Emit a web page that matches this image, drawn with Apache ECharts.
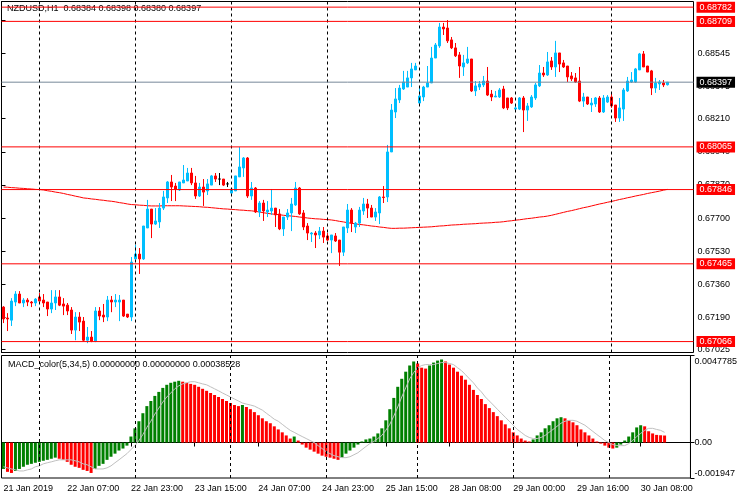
<!DOCTYPE html>
<html><head><meta charset="utf-8">
<script src="https://cdn.jsdelivr.net/npm/echarts@6/dist/echarts.min.js"></script>
<style>html,body{margin:0;padding:0;background:#fff}#c{width:740px;height:500px}</style>
</head><body><div id="c"></div>
<script>
// ---------------- DATA ----------------
const symbolName = 'NZDUSD,H1';
const open = [0.67243,0.67187,0.67176,0.67269,0.67310,0.67264,0.67279,0.67269,0.67264,0.67295,0.67279,0.67269,0.67233,0.67264,0.67295,0.67259,0.67253,0.67228,0.67125,0.67192,0.67171,0.67073,0.67089,0.67068,0.67223,0.67202,0.67192,0.67279,0.67269,0.67269,0.67279,0.67207,0.67192,0.67490,0.67515,0.67490,0.67649,0.67746,0.67669,0.67680,0.67751,0.67803,0.67885,0.67864,0.67844,0.67880,0.67890,0.67931,0.67880,0.67813,0.67859,0.67839,0.67869,0.67916,0.67900,0.67900,0.67875,0.67828,0.67839,0.67911,0.67957,0.68008,0.67813,0.67854,0.67731,0.67777,0.67731,0.67736,0.67751,0.67721,0.67644,0.67705,0.67726,0.67767,0.67854,0.67726,0.67659,0.67618,0.67623,0.67613,0.67633,0.67608,0.67587,0.67608,0.67587,0.67525,0.67649,0.67741,0.67654,0.67674,0.67736,0.67772,0.67751,0.67705,0.67726,0.67808,0.67808,0.68039,0.68244,0.68306,0.68362,0.68372,0.68419,0.68460,0.68290,0.68321,0.68372,0.68393,0.68521,0.68583,0.68680,0.68675,0.68614,0.68573,0.68537,0.68475,0.68496,0.68516,0.68352,0.68372,0.68383,0.68403,0.68336,0.68321,0.68321,0.68362,0.68316,0.68316,0.68259,0.68259,0.68316,0.68254,0.68270,0.68316,0.68378,0.68444,0.68434,0.68506,0.68475,0.68547,0.68496,0.68480,0.68429,0.68419,0.68403,0.68300,0.68321,0.68280,0.68285,0.68316,0.68244,0.68295,0.68321,0.68280,0.68213,0.68259,0.68352,0.68398,0.68398,0.68460,0.68542,0.68480,0.68455,0.68367,0.68388,0.68393,0.68384];
const close = [0.67182,0.67182,0.67274,0.67310,0.67264,0.67279,0.67269,0.67264,0.67284,0.67274,0.67264,0.67233,0.67264,0.67295,0.67253,0.67248,0.67223,0.67125,0.67192,0.67166,0.67073,0.67089,0.67068,0.67223,0.67197,0.67192,0.67279,0.67269,0.67279,0.67279,0.67197,0.67192,0.67474,0.67515,0.67490,0.67659,0.67746,0.67669,0.67685,0.67751,0.67808,0.67885,0.67859,0.67849,0.67885,0.67895,0.67931,0.67880,0.67813,0.67859,0.67833,0.67875,0.67916,0.67900,0.67900,0.67869,0.67875,0.67849,0.67916,0.67962,0.68008,0.67813,0.67854,0.67731,0.67777,0.67736,0.67741,0.67751,0.67716,0.67644,0.67705,0.67726,0.67772,0.67854,0.67721,0.67654,0.67623,0.67623,0.67613,0.67633,0.67602,0.67587,0.67613,0.67582,0.67525,0.67654,0.67741,0.67674,0.67674,0.67741,0.67772,0.67751,0.67705,0.67731,0.67808,0.67805,0.68039,0.68254,0.68311,0.68367,0.68398,0.68419,0.68465,0.68480,0.68326,0.68372,0.68393,0.68521,0.68588,0.68680,0.68670,0.68609,0.68573,0.68532,0.68480,0.68496,0.68516,0.68352,0.68378,0.68388,0.68403,0.68331,0.68321,0.68326,0.68357,0.68265,0.68265,0.68290,0.68265,0.68316,0.68254,0.68275,0.68321,0.68383,0.68444,0.68434,0.68501,0.68475,0.68547,0.68490,0.68475,0.68424,0.68414,0.68398,0.68300,0.68321,0.68285,0.68290,0.68316,0.68244,0.68316,0.68321,0.68275,0.68213,0.68265,0.68357,0.68403,0.68408,0.68465,0.68542,0.68475,0.68449,0.68367,0.68393,0.68398,0.68383,0.68397];
const low = [0.67161,0.67120,0.67146,0.67248,0.67264,0.67243,0.67248,0.67243,0.67248,0.67274,0.67243,0.67197,0.67212,0.67228,0.67248,0.67202,0.67202,0.67105,0.67073,0.67120,0.67068,0.67058,0.67063,0.67063,0.67176,0.67166,0.67171,0.67217,0.67243,0.67171,0.67192,0.67187,0.67171,0.67490,0.67413,0.67485,0.67649,0.67597,0.67664,0.67649,0.67741,0.67777,0.67787,0.67787,0.67839,0.67880,0.67890,0.67869,0.67798,0.67808,0.67762,0.67818,0.67869,0.67885,0.67869,0.67864,0.67859,0.67828,0.67839,0.67911,0.67911,0.67803,0.67793,0.67726,0.67705,0.67685,0.67705,0.67716,0.67654,0.67638,0.67608,0.67690,0.67633,0.67762,0.67716,0.67638,0.67587,0.67577,0.67546,0.67592,0.67572,0.67582,0.67520,0.67577,0.67454,0.67505,0.67623,0.67628,0.67623,0.67654,0.67716,0.67700,0.67705,0.67685,0.67669,0.67777,0.67782,0.68039,0.68213,0.68290,0.68357,0.68372,0.68372,0.68460,0.68280,0.68300,0.68372,0.68393,0.68521,0.68573,0.68639,0.68598,0.68567,0.68526,0.68419,0.68429,0.68490,0.68347,0.68326,0.68357,0.68372,0.68326,0.68300,0.68321,0.68316,0.68259,0.68254,0.68285,0.68244,0.68254,0.68141,0.68198,0.68265,0.68306,0.68372,0.68424,0.68429,0.68460,0.68424,0.68449,0.68470,0.68398,0.68403,0.68393,0.68295,0.68270,0.68280,0.68244,0.68270,0.68239,0.68239,0.68290,0.68265,0.68193,0.68193,0.68198,0.68347,0.68393,0.68393,0.68460,0.68475,0.68449,0.68331,0.68342,0.68357,0.68372,0.68380];
const high = [0.67248,0.67212,0.67289,0.67325,0.67325,0.67289,0.67289,0.67274,0.67289,0.67315,0.67310,0.67269,0.67330,0.67330,0.67330,0.67289,0.67264,0.67243,0.67217,0.67217,0.67192,0.67141,0.67120,0.67243,0.67243,0.67259,0.67300,0.67300,0.67310,0.67305,0.67279,0.67207,0.67500,0.67562,0.67546,0.67659,0.67793,0.67746,0.67751,0.67777,0.67839,0.67890,0.67921,0.67880,0.67885,0.67972,0.67957,0.67957,0.67916,0.67880,0.67900,0.67900,0.67921,0.67931,0.67931,0.67900,0.67885,0.67849,0.67916,0.68064,0.68013,0.68013,0.67885,0.67859,0.67787,0.67793,0.67787,0.67849,0.67751,0.67746,0.67705,0.67746,0.67803,0.67885,0.67859,0.67741,0.67674,0.67628,0.67633,0.67654,0.67654,0.67623,0.67613,0.67623,0.67587,0.67654,0.67772,0.67751,0.67680,0.67757,0.67803,0.67798,0.67767,0.67751,0.67813,0.67864,0.68075,0.68285,0.68367,0.68383,0.68455,0.68455,0.68496,0.68496,0.68372,0.68378,0.68480,0.68578,0.68598,0.68701,0.68701,0.68716,0.68629,0.68598,0.68552,0.68537,0.68578,0.68516,0.68403,0.68403,0.68429,0.68475,0.68357,0.68352,0.68367,0.68378,0.68316,0.68321,0.68280,0.68321,0.68326,0.68290,0.68331,0.68393,0.68485,0.68475,0.68552,0.68526,0.68609,0.68547,0.68511,0.68480,0.68449,0.68444,0.68475,0.68342,0.68321,0.68316,0.68321,0.68326,0.68331,0.68331,0.68342,0.68280,0.68316,0.68367,0.68424,0.68449,0.68470,0.68547,0.68557,0.68480,0.68460,0.68419,0.68408,0.68408,0.68398];
const movingAvg = [0.67859,0.67858,0.67856,0.67855,0.67853,0.67852,0.67850,0.67849,0.67847,0.67846,0.67844,0.67840,0.67837,0.67833,0.67830,0.67826,0.67821,0.67817,0.67812,0.67808,0.67803,0.67801,0.67798,0.67796,0.67793,0.67791,0.67788,0.67786,0.67783,0.67779,0.67776,0.67772,0.67769,0.67768,0.67766,0.67765,0.67763,0.67762,0.67762,0.67762,0.67763,0.67763,0.67763,0.67763,0.67763,0.67762,0.67761,0.67760,0.67759,0.67758,0.67756,0.67755,0.67753,0.67751,0.67749,0.67747,0.67746,0.67744,0.67743,0.67741,0.67740,0.67738,0.67737,0.67734,0.67731,0.67727,0.67724,0.67721,0.67719,0.67717,0.67714,0.67712,0.67710,0.67708,0.67705,0.67703,0.67700,0.67698,0.67696,0.67695,0.67693,0.67692,0.67690,0.67687,0.67683,0.67680,0.67676,0.67673,0.67670,0.67667,0.67665,0.67662,0.67659,0.67657,0.67654,0.67652,0.67649,0.67647,0.67647,0.67648,0.67648,0.67649,0.67650,0.67651,0.67652,0.67653,0.67654,0.67655,0.67657,0.67659,0.67660,0.67662,0.67664,0.67665,0.67666,0.67668,0.67669,0.67670,0.67671,0.67673,0.67674,0.67675,0.67676,0.67678,0.67679,0.67681,0.67684,0.67686,0.67689,0.67691,0.67694,0.67697,0.67699,0.67702,0.67705,0.67707,0.67710,0.67714,0.67719,0.67724,0.67729,0.67734,0.67738,0.67743,0.67748,0.67753,0.67757,0.67762,0.67767,0.67772,0.67776,0.67781,0.67785,0.67790,0.67795,0.67799,0.67804,0.67808,0.67813,0.67817,0.67821,0.67826,0.67830,0.67834,0.67838,0.67843,0.67847];
const macdHist = [-0.00145,-0.00161,-0.00167,-0.00156,-0.00145,-0.00133,-0.00122,-0.00117,-0.00111,-0.00106,-0.00100,-0.00095,-0.00089,-0.00083,-0.00089,-0.00095,-0.00106,-0.00122,-0.00133,-0.00139,-0.00150,-0.00156,-0.00167,-0.00145,-0.00128,-0.00117,-0.00095,-0.00078,-0.00061,-0.00044,-0.00033,-0.00017,0.00033,0.00078,0.00117,0.00161,0.00200,0.00228,0.00256,0.00278,0.00300,0.00317,0.00328,0.00334,0.00339,0.00334,0.00328,0.00322,0.00317,0.00306,0.00295,0.00284,0.00272,0.00261,0.00250,0.00239,0.00228,0.00217,0.00206,0.00200,0.00206,0.00195,0.00183,0.00167,0.00150,0.00133,0.00117,0.00106,0.00089,0.00072,0.00056,0.00039,0.00022,0.00033,0.00011,-0.00011,-0.00028,-0.00039,-0.00050,-0.00061,-0.00072,-0.00078,-0.00083,-0.00089,-0.00095,-0.00083,-0.00061,-0.00044,-0.00028,-0.00011,0.00006,0.00017,0.00022,0.00033,0.00050,0.00078,0.00122,0.00183,0.00245,0.00306,0.00350,0.00389,0.00423,0.00445,0.00434,0.00411,0.00406,0.00423,0.00439,0.00450,0.00456,0.00445,0.00428,0.00411,0.00389,0.00367,0.00345,0.00317,0.00289,0.00261,0.00239,0.00211,0.00189,0.00167,0.00145,0.00122,0.00100,0.00078,0.00056,0.00039,0.00022,0.00011,0.00006,0.00017,0.00039,0.00056,0.00078,0.00095,0.00117,0.00133,0.00139,0.00133,0.00122,0.00111,0.00095,0.00072,0.00056,0.00039,0.00022,0.00006,-0.00006,-0.00017,-0.00028,-0.00033,-0.00028,-0.00011,0.00011,0.00033,0.00056,0.00083,0.00095,0.00089,0.00062,0.00050,0.00042,0.00040,0.00038528];
const macdSignal = [-0.00133,-0.00139,-0.00145,-0.00150,-0.00156,-0.00156,-0.00150,-0.00145,-0.00133,-0.00128,-0.00117,-0.00111,-0.00106,-0.00100,-0.00095,-0.00095,-0.00095,-0.00095,-0.00100,-0.00106,-0.00117,-0.00122,-0.00133,-0.00145,-0.00145,-0.00145,-0.00139,-0.00128,-0.00111,-0.00095,-0.00078,-0.00061,-0.00039,-0.00017,0.00011,0.00044,0.00083,0.00117,0.00156,0.00189,0.00222,0.00250,0.00272,0.00295,0.00311,0.00322,0.00328,0.00334,0.00334,0.00328,0.00322,0.00317,0.00306,0.00295,0.00284,0.00272,0.00261,0.00250,0.00239,0.00228,0.00217,0.00211,0.00206,0.00200,0.00189,0.00178,0.00161,0.00145,0.00128,0.00117,0.00100,0.00083,0.00067,0.00056,0.00044,0.00033,0.00022,0.00011,0.00000,-0.00017,-0.00033,-0.00050,-0.00061,-0.00072,-0.00078,-0.00083,-0.00083,-0.00078,-0.00067,-0.00056,-0.00039,-0.00022,-0.00006,0.00006,0.00022,0.00039,0.00067,0.00100,0.00145,0.00195,0.00250,0.00300,0.00350,0.00384,0.00411,0.00423,0.00428,0.00428,0.00428,0.00434,0.00439,0.00439,0.00434,0.00428,0.00411,0.00395,0.00373,0.00350,0.00328,0.00300,0.00278,0.00250,0.00228,0.00206,0.00183,0.00161,0.00139,0.00117,0.00095,0.00072,0.00056,0.00039,0.00028,0.00022,0.00022,0.00028,0.00039,0.00056,0.00072,0.00089,0.00106,0.00117,0.00122,0.00122,0.00117,0.00106,0.00095,0.00078,0.00061,0.00044,0.00028,0.00011,0.00000,-0.00011,-0.00017,-0.00017,-0.00017,-0.00006,0.00011,0.00033,0.00050,0.00067,0.00078,0.00078,0.00072,0.00067,0.00056];
// horizontal levels drawn on the chart and the bid line
const levelLines = [0.68782, 0.68709, 0.68065, 0.67846, 0.67465, 0.67066];
const bidPrice = 0.68397;
// axis tick labels
const priceTicks = [0.67025,0.67190,0.67360,0.67530,0.67700,0.67870,0.68040,0.68210,0.68375,0.68545,0.68715];
const macdTicks = [0.0047785, 0, -0.001947];
const macdTickText = ['0.0047785', '0.00', '-0.001947'];
const timeLabelIdx = [0,16,32,48,64,80,96,112,128,144,160];
const timeLabelText = ['21 Jan 2019','22 Jan 07:00','22 Jan 23:00','23 Jan 15:00','24 Jan 07:00','24 Jan 23:00','25 Jan 15:00','28 Jan 08:00','29 Jan 00:00','29 Jan 16:00','30 Jan 08:00'];
const daySeparatorIdx = [9,33,57,81,104,128,152];
const macdTitle = 'MACD_color(5,34,5) 0.00000000 0.00000000';

// ---------------- BUILD ----------------
const SLOTS = 173;
const cats = [];
for (let i = 0; i < SLOTS; i++) cats.push(String(i));
const labelMap = {};
timeLabelIdx.forEach((k, j) => labelMap[k] = timeLabelText[j]);
const candleData = open.map((o, i) => [o, close[i], low[i], high[i]]);
const histData = macdHist.map((v, i) => ({
  value: v,
  itemStyle: { color: (i > 0 && v < macdHist[i - 1]) ? '#FF0000' : '#008000' }
}));
const FONT = 'Tahoma, "Liberation Sans", Arial, sans-serif';
const last = candleData.length - 1;
const titleText = symbolName + '  ' + [open[last], high[last], low[last], close[last]].map(v => v.toFixed(5)).join(' ');

const dashLine = { color: '#000000', type: [3, 3], width: 1 };
const vLines = daySeparatorIdx.map(k => ({ xAxis: cats[k], lineStyle: dashLine, label: { show: false } }));

function levelSeries(v, lineColor, boxColor) {
  return {
    type: 'line', xAxisIndex: 2, yAxisIndex: 0, data: [[0, v], [1, v]], symbol: 'none', silent: true, z: 6,
    color: lineColor, lineStyle: { color: lineColor, width: 1, type: 'solid' },
    endLabel: { show: true, distance: 3, formatter: () => v.toFixed(5), color: '#fff', backgroundColor: boxColor,
      padding: [1, 3, 0, 3], fontSize: 9, fontFamily: FONT, lineHeight: 10 }
  };
}
const levelSeriesList = levelLines.map(v => levelSeries(v, '#FF0000', '#FF0000'));
levelSeriesList.push(levelSeries(bidPrice, '#778899', '#000000'));

const chart = echarts.init(document.getElementById('c'), null, { renderer: 'canvas' });
chart.setOption({
  animation: false,
  backgroundColor: '#fff',
  textStyle: { fontFamily: FONT },
  title: [
    { text: titleText, left: 7, top: 4, padding: 0, textStyle: { fontSize: 9, fontWeight: 'normal', color: '#000', fontFamily: FONT } },
    { text: macdTitle + ' ' + macdHist[macdHist.length - 1].toFixed(8), left: 8, top: 360, padding: 0,
      textStyle: { fontSize: 9, fontWeight: 'normal', color: '#000', fontFamily: FONT } }
  ],
  grid: [
    { left: 1.5, top: 1.5, width: 692, height: 351, show: true, borderColor: '#000', borderWidth: 1, backgroundColor: 'transparent' },
    { left: 1.5, top: 355.5, width: 692, height: 122.5, show: true, borderColor: '#000', borderWidth: 1, backgroundColor: 'transparent' }
  ],
  xAxis: [
    { type: 'category', gridIndex: 0, data: cats, boundaryGap: true,
      axisLine: { show: false }, axisTick: { show: false }, axisLabel: { show: false }, splitLine: { show: false } },
    { type: 'category', gridIndex: 1, data: cats, boundaryGap: true,
      axisLine: { show: true, lineStyle: { color: '#000' } },
      axisTick: { show: true, alignWithLabel: true, length: 4, interval: (i) => labelMap[i] !== undefined, lineStyle: { color: '#000' } },
      axisLabel: { show: true, interval: (i) => labelMap[i] !== undefined, formatter: (v, i) => labelMap[i] || '',
        align: 'left', margin: 6, fontSize: 9, color: '#000', fontFamily: FONT },
      splitLine: { show: false } },
    { type: 'value', gridIndex: 0, min: 0, max: 1, show: false }
  ],
  yAxis: [
    { type: 'value', gridIndex: 0, position: 'right', min: 0.67010, max: 0.68811,
      axisLine: { show: true, lineStyle: { color: '#000' } },
      axisTick: { show: true, length: 4, customValues: priceTicks, lineStyle: { color: '#000' } },
      axisLabel: { show: true, customValues: priceTicks, formatter: v => v.toFixed(5), margin: 4, fontSize: 9, color: '#000', fontFamily: FONT },
      splitLine: { show: false } },
    { type: 'value', gridIndex: 1, position: 'right', min: -0.001947, max: 0.0047785,
      axisLine: { show: true, lineStyle: { color: '#000' } },
      axisTick: { show: true, length: 4, customValues: macdTicks, lineStyle: { color: '#000' } },
      axisLabel: { show: true, customValues: macdTicks, margin: 4, fontSize: 9, color: '#000', fontFamily: FONT,
        formatter: v => {
          const j = macdTicks.findIndex(t => Math.abs(t - v) < 1e-9);
          const s = j >= 0 ? macdTickText[j] : '';
          if (j === 0) return '{t|' + s + '}';
          if (j === 2) return '{b|' + s + '}';
          return s;
        },
        rich: { t: { padding: [12, 0, 0, 0], fontSize: 9, color: '#000' }, b: { padding: [0, 0, 8, 0], fontSize: 9, color: '#000' } } },
      splitLine: { show: false } }
  ],
  series: [
    { type: 'line', xAxisIndex: 0, yAxisIndex: 0, data: movingAvg, symbol: 'none', smooth: false, color: '#FF0000',
      lineStyle: { color: '#FF0000', width: 1 }, z: 2, silent: true },
    { type: 'candlestick', xAxisIndex: 0, yAxisIndex: 0, data: candleData, barWidth: 2, z: 3,
      itemStyle: { color: '#00BFFF', color0: '#FF0000', borderColor: '#00BFFF', borderColor0: '#FF0000', borderColorDoji: '#000', borderWidth: 1 },
      markLine: { silent: true, symbol: ['none', 'none'], data: vLines, lineStyle: dashLine } },
    { type: 'bar', xAxisIndex: 1, yAxisIndex: 1, data: histData, barWidth: 3, z: 2,
      markLine: { silent: true, symbol: ['none', 'none'], lineStyle: dashLine,
        data: daySeparatorIdx.map(k => ({ xAxis: cats[k], lineStyle: dashLine, label: { show: false } })) } },
    { type: 'line', xAxisIndex: 1, yAxisIndex: 1, data: macdSignal, symbol: 'none', color: '#C0C0C0',
      lineStyle: { color: '#C0C0C0', width: 1 }, z: 4, silent: true }
  ].concat(levelSeriesList)
});
</script></body></html>
